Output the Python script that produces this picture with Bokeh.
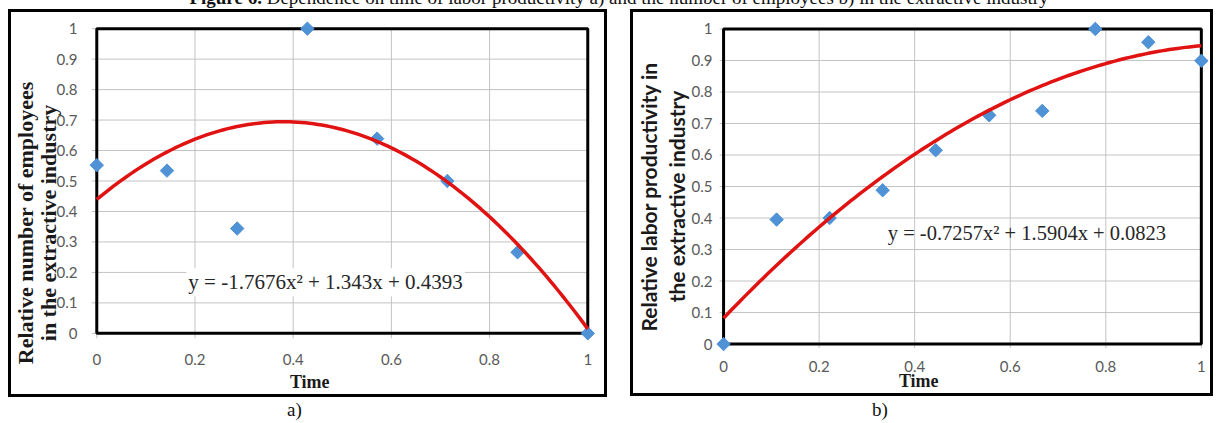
import numpy as np
from bokeh.plotting import figure
from bokeh.models import Range1d, FixedTicker, NumeralTickFormatter, BoxAnnotation, Label, Div
from bokeh.layouts import row, column
from bokeh.embed import file_html
from bokeh.resources import INLINE

# ---------------- data ----------------
time_a = [0.0, 0.143, 0.286, 0.429, 0.571, 0.714, 0.857, 1.0]
employees_a = [0.552, 0.534, 0.344, 1.0, 0.639, 0.5, 0.266, 0.0]
trend_coef_a = [-1.7676, 1.343, 0.4393]
equation_a = "y = -1.7676x\u00b2 + 1.343x + 0.4393"

time_b = [0.0, 0.111, 0.222, 0.333, 0.444, 0.556, 0.667, 0.778, 0.889, 1.0]
productivity_b = [0.0, 0.395, 0.40, 0.488, 0.615, 0.726, 0.74, 1.0, 0.958, 0.899]
trend_coef_b = [-0.7257, 1.5904, 0.0823]
equation_b = "y = -0.7257x\u00b2 + 1.5904x + 0.0823"

x_ticks = [0, 0.2, 0.4, 0.6, 0.8, 1]
y_ticks = [0, 0.1, 0.2, 0.3, 0.4, 0.5, 0.6, 0.7, 0.8, 0.9, 1]

ylabel_a = ["Relative number of employees", "in the extractive industry"]
ylabel_b = ["Relative labor productivity in", "the extractive industry"]
xlabel = "Time"

title_text = ("<b>Figure 6.</b> Dependence on time of labor productivity a) and the number "
              "of employees b) in the extractive industry")

BLUE = "#4f92d6"
RED = "#e01212"
GRID = "#c3c3c3"
TICKC = "#595959"
NB = "\u00a0"


def make_panel(width, height, mb, xr, yr, tick_len, xs, ys, coef, eq, eq_xy, eq_bg, eq_size,
               ylab, ylab_pad, ylab_standoff, time_pad, time_standoff,
               y_label_standoff, x_label_standoff):
    p = figure(width=width, height=height, output_backend="svg", toolbar_location=None,
               x_range=Range1d(*xr), y_range=Range1d(*yr),
               min_border_left=mb[0], min_border_right=mb[1],
               min_border_top=mb[2], min_border_bottom=mb[3],
               background_fill_color="white", border_fill_color=None,
               styles={"outline": "3px solid #000"})
    p.outline_line_color = None
    p.grid.visible = False

    # grid lines within the data box, extended slightly outward as tick marks
    nx, ny = len(x_ticks), len(y_ticks)
    p.segment(x0=x_ticks, x1=x_ticks, y0=[-tick_len[1]] * nx, y1=[1] * nx,
              line_color=GRID, line_width=1, level="underlay")
    p.segment(x0=[-tick_len[0]] * ny, x1=[1] * ny, y0=y_ticks, y1=y_ticks,
              line_color=GRID, line_width=1, level="underlay")
    box = BoxAnnotation(left=0, right=1, bottom=0, top=1, fill_alpha=0,
                        line_color="black", line_alpha=1.0, line_width=3, level="underlay")
    p.add_layout(box)

    for ax in (p.xaxis[0], p.yaxis[0]):
        ax.axis_line_color = None
        ax.major_tick_line_color = None
        ax.minor_tick_line_color = None
        ax.major_tick_in = 0
        ax.major_tick_out = 0
        ax.major_label_text_color = TICKC
        ax.major_label_text_font = "Lato"
        ax.major_label_text_font_size = "15px"
        ax.formatter = NumeralTickFormatter(format="0.[0]")
        ax.axis_label_text_font_style = "bold"
        ax.axis_label_text_color = "#1a1a1a"
    p.xaxis.ticker = FixedTicker(ticks=x_ticks)
    p.yaxis.ticker = FixedTicker(ticks=y_ticks)
    p.xaxis.major_label_standoff = x_label_standoff
    p.yaxis.major_label_standoff = y_label_standoff

    if ylab is not None:
        p.yaxis.axis_label = "\n".join(t + NB * ylab_pad for t in ylab)
        p.yaxis.axis_label_text_font = "Lato"
        p.yaxis.axis_label_text_font_size = "21px"
        p.yaxis.axis_label_standoff = ylab_standoff
        p.yaxis.axis_label_text_line_height = 1.1

    p.xaxis.axis_label = xlabel + NB * time_pad
    p.xaxis.axis_label_text_font = "Liberation Serif"
    p.xaxis.axis_label_text_font_size = "18px"
    p.xaxis.axis_label_standoff = time_standoff

    p.scatter(xs, ys, marker="square", angle=np.pi / 4, size=9.5,
              fill_color=BLUE, line_color=BLUE)
    xf = np.linspace(0, 1, 121)
    yf = np.polyval(coef, xf)
    p.line(xf, yf, line_color=RED, line_width=3.5)

    p.add_layout(Label(x=eq_xy[0], y=eq_xy[1], text=eq, text_align="center",
                       text_baseline="middle", text_font="Liberation Serif",
                       text_font_size=eq_size, text_color="#262626",
                       background_fill_color=eq_bg, padding=2))
    return p


pa = make_panel(593, 382, (73, 2, 7, 52), (-0.025, 1.03), (-0.03, 1.03), (0.0102, 0.0164),
                time_a, employees_a, trend_coef_a, equation_a, (0.466, 0.168), "white", "21px",
                None, 0, 0, 15, 4, 7, 11)

pb = make_panel(577, 381, (79, 2, 7, 40), (-0.019, 1.015), (-0.03, 1.03), (0.0083, 0.0127),
                time_b, productivity_b, trend_coef_b, equation_b, (0.635, 0.352), None, "20.5px",
                ylabel_b, 4, 0, 19, -4, 2, 7)

# y-axis title of panel a, as rotated HTML text laid over the left margin of the panel
ylab_a_html = (
    "<div style=\"position: relative; width: 11px; height: 382px; overflow: visible; z-index: 5\">"
    "<div style=\"position: absolute; left: 37px; top: 211px; "
    "transform: translate(-50%, -50%) rotate(-90deg); white-space: nowrap; text-align: center; "
    "font: bold 22px 'Liberation Serif'; line-height: 23px; color: #1a1a1a\">"
    + "<br>".join(ylabel_a) + "</div></div>"
)
ylab_a = Div(text=ylab_a_html, width=11, height=382, margin=0, styles={"overflow": "visible"})

cap_a = Div(text="<div style=\"font: 19px 'Liberation Serif'; line-height: 32px; "
                 "padding-left: 276px; color:#111; white-space: nowrap\">a)</div>",
            width=593, height=20, margin=0, styles={"overflow": "visible"})
cap_b = Div(text="<div style=\"font: 19px 'Liberation Serif'; line-height: 34px; "
                 "padding-left: 239px; color:#111; white-space: nowrap\">b)</div>",
            width=577, height=20, margin=0, styles={"overflow": "visible"})

gap = Div(text="", width=29, height=10, margin=0)

title = Div(text="<div style=\"position: relative; top: -12px; width: 1216px; "
                 "box-sizing: border-box; text-align: center; padding-left: 22px; "
                 "white-space: nowrap; font: 19px 'Liberation Serif'; line-height: 20px; "
                 "color:#111\">" + title_text + "</div>",
            width=1216, height=12, margin=0, styles={"overflow": "visible"})

layout = column(
    title,
    row(ylab_a, column(pa, cap_a), gap, column(pb, cap_b)),
)

open("out.html", "w").write(file_html(layout, INLINE))
